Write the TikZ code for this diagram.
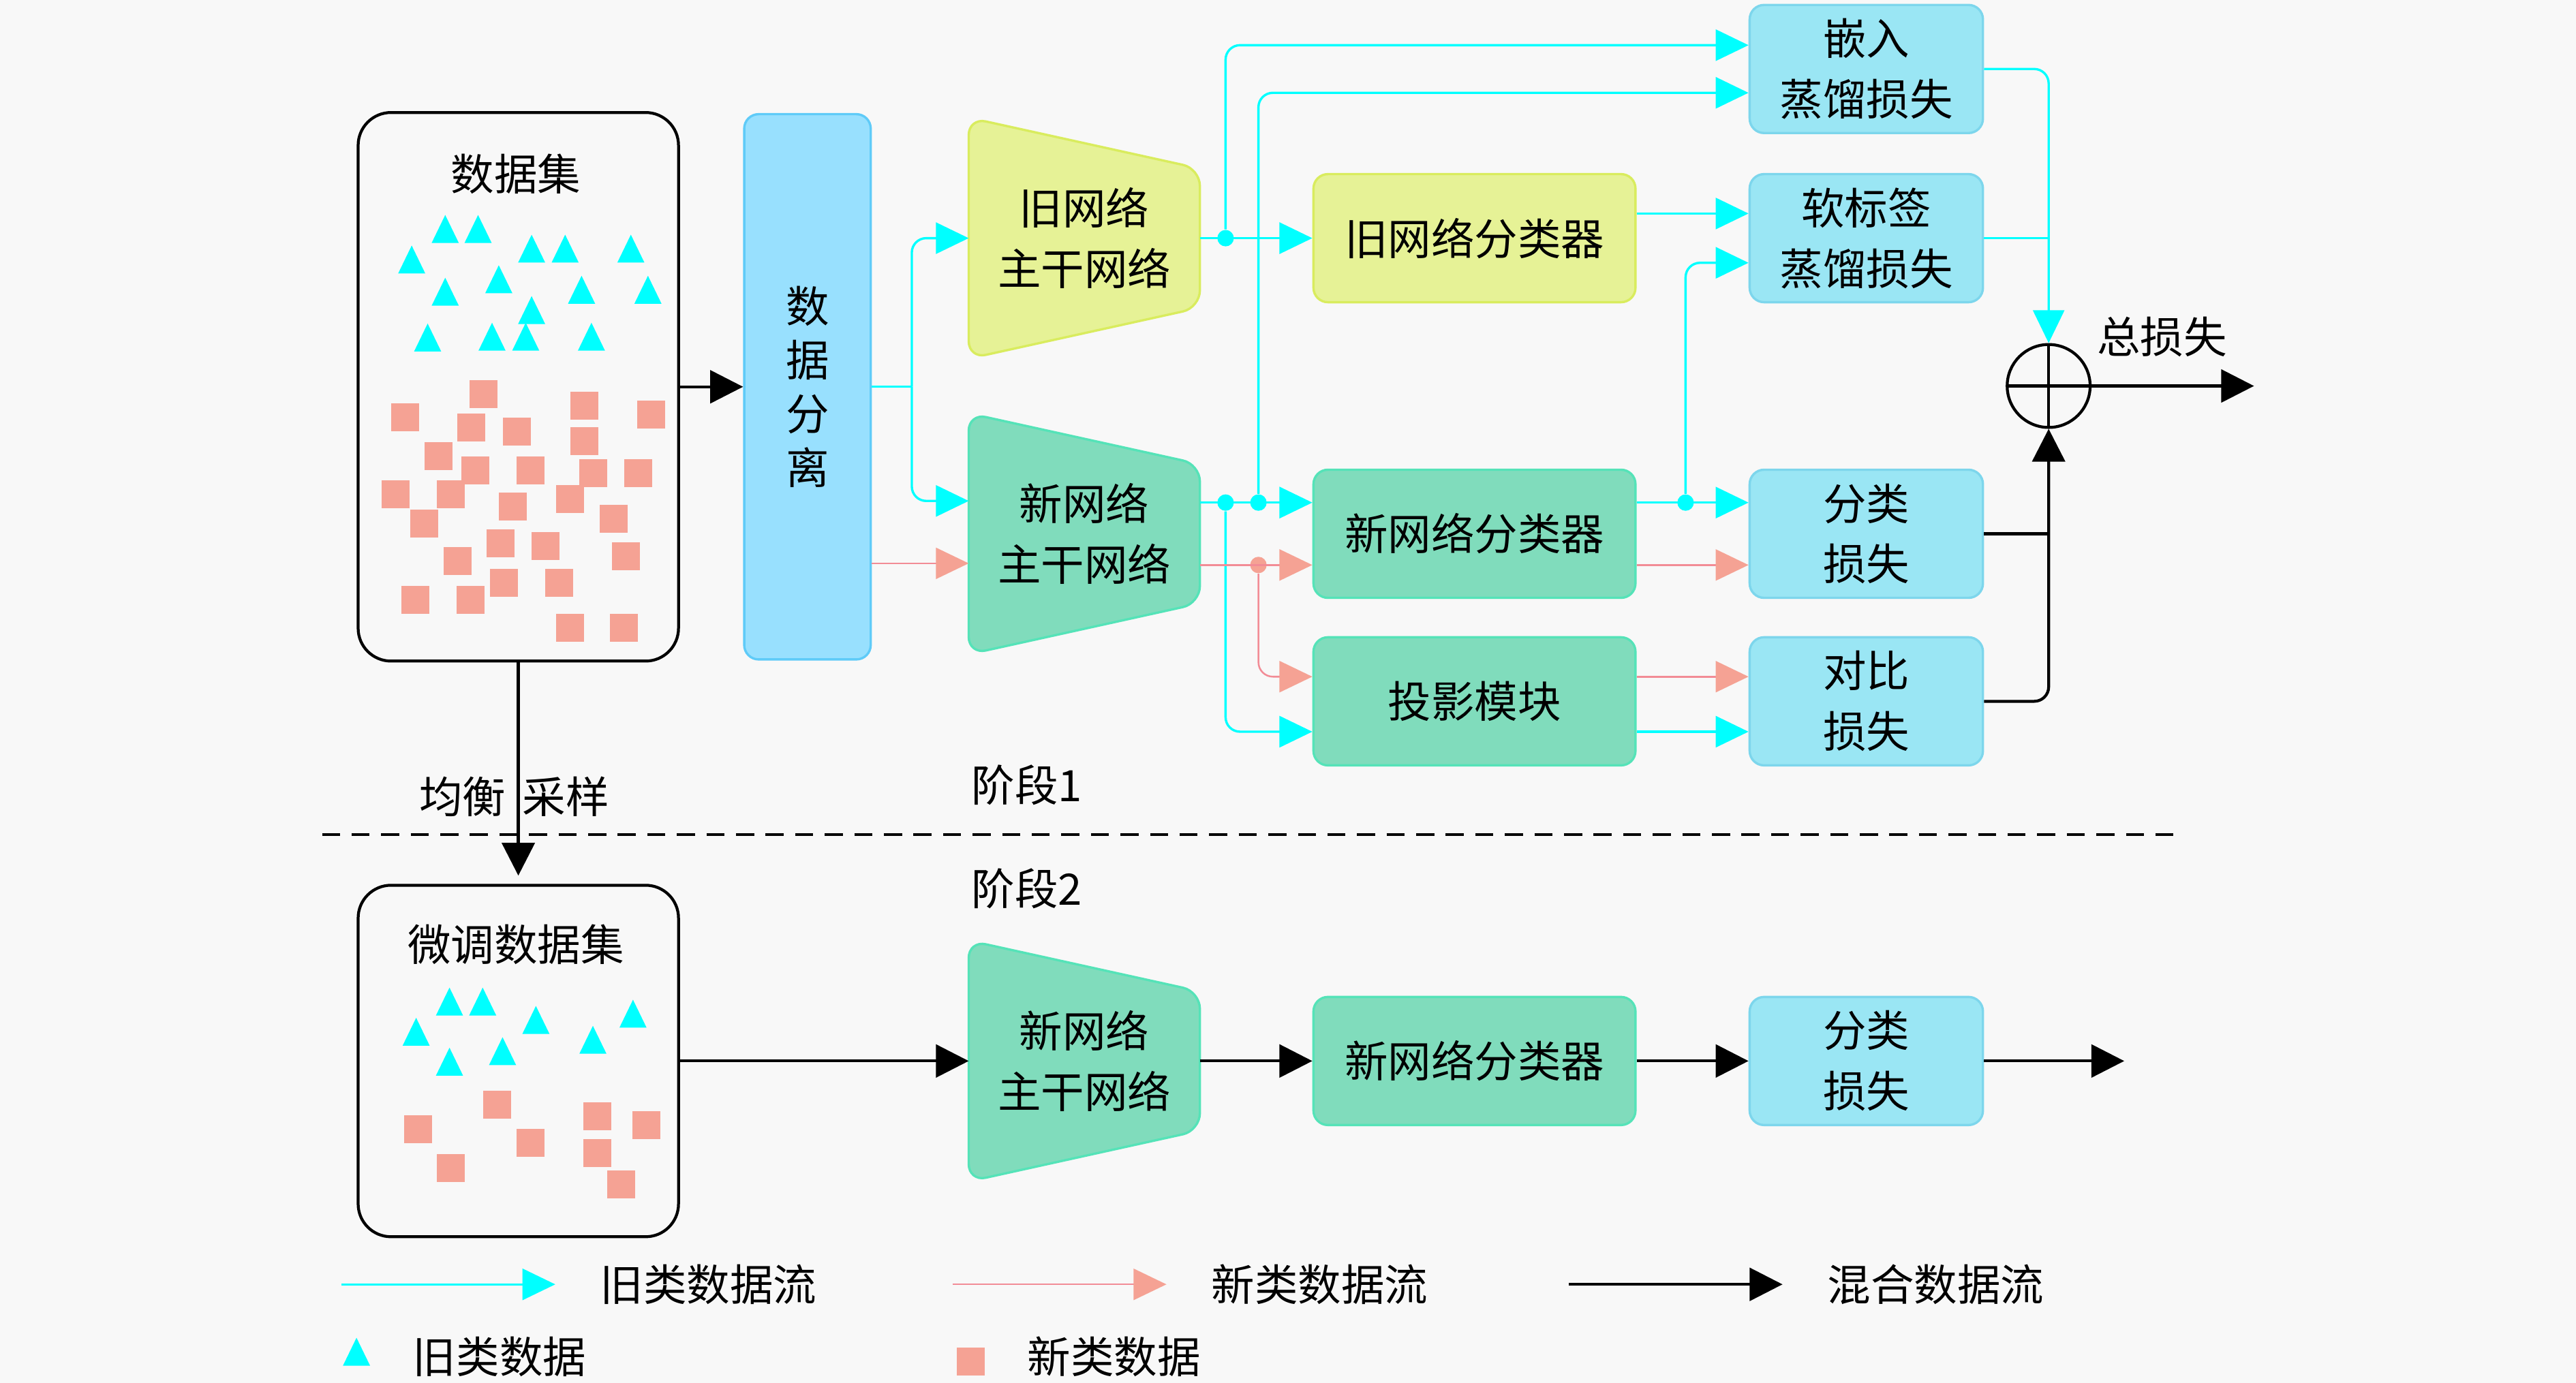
\documentclass[tikz,border=0pt]{standalone}
\usepackage{fontspec}
\setmainfont{Noto Sans CJK SC}
\usetikzlibrary{arrows.meta, positioning, calc, backgrounds}
\definecolor{cbg}{HTML}{F8F8F8}
\definecolor{ccyan}{HTML}{00FFFF}
\definecolor{cpink}{HTML}{F28C96}
\definecolor{csalmon}{HTML}{F5A294}
\definecolor{cyel}{HTML}{E6F296}
\definecolor{cyeld}{HTML}{D9EC5E}
\definecolor{cgrn}{HTML}{80DCBC}
\definecolor{cgrnd}{HTML}{55E3B8}
\definecolor{cblu}{HTML}{9AE6F4}
\definecolor{cblud}{HTML}{7DD6EC}
\definecolor{csplit}{HTML}{98E0FE}
\definecolor{csplitd}{HTML}{5FCBF8}
\tikzset{
  blockbox/.style={draw=#1d, fill=#1, line width=0.8pt, rounded corners=5pt, align=center, minimum width=3.92cm, minimum height=1.56cm},
  lossbox/.style={blockbox=cblu, minimum width=2.84cm},
  setbox/.style={draw=black, line width=1pt, rounded corners=0.4cm, minimum width=3.9cm},
  bbnode/.style={align=center, minimum width=2.8cm, minimum height=2.92cm},
  oldflow/.style={draw=ccyan, line width=0.8pt, -{Triangle[length=0.4cm, width=0.38cm]}},
  newflow/.style={draw=cpink, line width=0.6pt, -{Triangle[length=0.4cm, width=0.38cm, color=csalmon]}},
  mixflow/.style={draw=black, line width=1pt, -{Triangle[length=0.4cm, width=0.4cm]}},
  joint/.style={circle, fill=#1, inner sep=0pt, minimum size=0.2cm},
  joint/.default=ccyan,
}

\begin{document}
\begin{tikzpicture}[x=0.2mm, y=-0.2mm, every node/.append style={font=\fontsize{15}{21}\selectfont}]
  \useasboundingbox (0,0) rectangle (1568,842);
  % data sets
  \node[setbox, minimum height=6.68cm] (ds) at (315.5,235.5) {};
  \node (dstitle) at (314,106) {数据集};
  \node[setbox, minimum height=4.28cm] (ft) at (315.5,646) {};
  \node (fttitle) at (314,575) {微调数据集};
  \foreach \p in {(250.6,158),(271,139.4),(291,139.4),(323.6,151.4),(344,151.4),(384,151.4),(271,177.6),(303.6,170),(354,176.4),(394.4,176.4),(323.6,188.8),(260.3,205.5),(299.5,205),(320,205),(360,205),
                  (273.6,609.8),(293.8,609.8),(253.3,628.2),(326.2,621),(385.3,617.2),(360.9,633.1),(273.6,646.4),(305.9,640),(217,823)}
    \fill[ccyan] \p ++(-0.165cm,-0.17cm) -- ++(0.33cm,0) -- ++(-0.165cm,0.34cm) -- cycle;
  \foreach \p in {(294.4,240.1),(246.5,254.2),(286.9,260.1),(314.7,262.9),(355.7,246.9),(396.4,252.6),(355.7,268.6),(266.8,277.7),(289.5,286.3),(322.8,286.3),(361,287.9),(388.3,287.9),(240.9,301.1),(274.4,301.1),
                  (312,308.4),(347,303.8),(373.5,315.7),(258.1,318.6),(304.7,330.7),(332.1,332.3),(381,338.6),(278.4,341.4),(306.9,355),(340.3,355),(252.9,365.3),(286.5,365.3),(346.8,382.3),(379.8,382.3),
                  (254.3,687.7),(302.4,672.7),(323.1,696),(363.6,679.6),(393.6,685),(363.6,701.9),(274.6,711),(378.1,721.3),(591,829)}
    \fill[csalmon] \p ++(-0.17cm,-0.17cm) rectangle ++(0.34cm,0.34cm);

  % stage 1
  \node[blockbox=csplit, minimum width=1.54cm, minimum height=6.64cm, font=\fontsize{15}{18.7}\selectfont] (split) at (491.5,235.5) {数\\据\\分\\离};
  \node[bbnode] (oldbb) at (660,145) {旧网络\\主干网络};
  \node[bbnode] (newbb) at (660,325) {新网络\\主干网络};
  \node[blockbox=cyel] (oldcls) at (897.5,145) {旧网络分类器};
  \node[blockbox=cgrn] (newcls) at (897.5,325) {新网络分类器};
  \node[blockbox=cgrn] (proj) at (897.5,427) {投影模块};
  \node[lossbox] (emb) at (1136,42) {嵌入\\蒸馏损失};
  \node[lossbox] (soft) at (1136,145) {软标签\\蒸馏损失};
  \node[lossbox] (clsloss) at (1136,325) {分类\\损失};
  \node[lossbox] (con) at (1136,427) {对比\\损失};
  \node[circle, draw, line width=1pt, minimum size=1.01cm, inner sep=0pt,
        path picture={\draw[line width=1pt] (path picture bounding box.north) -- (path picture bounding box.south)
                      (path picture bounding box.west) -- (path picture bounding box.east);}] (tot) at (1247,235) {};
  \node (totlbl) at (1316,205) {总损失};
  \coordinate (fork) at (555,235.5);
  \coordinate (out1) at (1372,235);

  \draw[mixflow] (ds) -- (split);
  \draw[oldflow, -] (split) -- (fork);
  \draw[oldflow, rounded corners=5pt] (fork) |- (oldbb.west);
  \draw[oldflow, rounded corners=5pt] (fork) |- ([yshift=0.4cm]newbb.west);
  \draw[newflow] ([yshift=-0.36cm]newbb.west -| split.east) -- ([yshift=-0.36cm]newbb.west);

  \node[joint] (d1) at (746,145) {};
  \node[joint] (d2) at (746,306) {};
  \node[joint] (d3) at (766,306) {};
  \node[joint=csalmon] (d4) at (766,344) {};
  \node[joint] (d5) at (1026,306) {};
  \draw[oldflow] (oldbb.east) -- (oldcls.west);
  \draw[oldflow, rounded corners=5pt] (d1) |- ([yshift=0.29cm]emb.west);
  \draw[oldflow, rounded corners=5pt] (d3) |- ([yshift=-0.29cm]emb.west);
  \draw[oldflow] ([yshift=0.38cm]newbb.east) -- ([yshift=0.38cm]newcls.west);
  \draw[oldflow, rounded corners=5pt] (d2) |- ([yshift=-0.37cm]proj.west);
  \draw[newflow] ([yshift=-0.38cm]newbb.east) -- ([yshift=-0.38cm]newcls.west);
  \draw[newflow, rounded corners=5pt] (d4) |- ([yshift=0.3cm]proj.west);

  \draw[oldflow] ([yshift=0.3cm]oldcls.east) -- ([yshift=0.3cm]soft.west);
  \draw[oldflow] ([yshift=0.38cm]newcls.east) -- ([yshift=0.38cm]clsloss.west);
  \draw[oldflow, rounded corners=5pt] (d5) |- ([yshift=-0.3cm]soft.west);
  \draw[newflow] ([yshift=-0.38cm]newcls.east) -- ([yshift=-0.38cm]clsloss.west);
  \draw[newflow] ([yshift=0.3cm]proj.east) -- ([yshift=0.3cm]con.west);
  \draw[oldflow] ([yshift=-0.37cm]proj.east) -- ([yshift=-0.37cm]con.west);

  \draw[oldflow, rounded corners=5pt] (emb.east) -| (tot.north);
  \draw[oldflow, -] (soft.east) -- (soft.east -| tot.north);
  \draw[mixflow, -] (clsloss.east) -- (clsloss.east -| tot.south);
  \draw[mixflow, rounded corners=5pt] (con.east) -| (tot.south);
  \draw[mixflow] (tot.east) -- (out1);

  % stage border
  \coordinate (sepL) at (196,508);
  \coordinate (sepR) at (1323,508);
  \draw[line width=1pt, dash pattern=on 0.22cm off 0.14cm] (sepL) -- (sepR);
  \draw[mixflow, shorten >=0.1cm] (ds.south) -- (ft.north);
  \node (bal) at (313,485) {均衡\hspace{0.2cm}采样};
  \node (st1) at (625,478) {阶段1};
  \node (st2) at (625,541) {阶段2};

  % stage 2
  \node[bbnode] (ftbb) at (660,646) {新网络\\主干网络};
  \node[blockbox=cgrn] (ftcls) at (897.5,646) {新网络分类器};
  \node[lossbox] (ftloss) at (1136,646) {分类\\损失};
  \coordinate (out2) at (1293,646);
  \draw[mixflow] (ft) -- (ftbb);
  \draw[mixflow] (ftbb) -- (ftcls);
  \draw[mixflow] (ftcls) -- (ftloss);
  \draw[mixflow] (ftloss) -- (out2);

  % legend
  \coordinate (lgA1) at (208,782); \coordinate (lgA2) at (338,782);
  \coordinate (lgB1) at (580,782); \coordinate (lgB2) at (710,782);
  \coordinate (lgC1) at (955,782); \coordinate (lgC2) at (1085,782);
  \draw[oldflow] (lgA1) -- (lgA2);
  \draw[newflow] (lgB1) -- (lgB2);
  \draw[mixflow] (lgC1) -- (lgC2);
  \node[anchor=west, inner sep=0pt] (lgAt) at (365,782) {旧类数据流};
  \node[anchor=west, inner sep=0pt] (lgBt) at (737,782) {新类数据流};
  \node[anchor=west, inner sep=0pt] (lgCt) at (1112,782) {混合数据流};
  \node[anchor=west, inner sep=0pt] (lgDt) at (251,826) {旧类数据};
  \node[anchor=west, inner sep=0pt] (lgEt) at (625,826) {新类数据};

  \begin{scope}[on background layer]
    \fill[cbg] (0,0) rectangle (1568,842);
    \foreach \b/\c in {oldbb/cyel, newbb/cgrn, ftbb/cgrn}
      \draw[draw=\c d, fill=\c, line width=0.8pt, rounded corners=6pt] (\b.north west) -- ([yshift=-0.62cm]\b.north east) -- ([yshift=0.62cm]\b.south east) -- (\b.south west) -- cycle;
  \end{scope}
\end{tikzpicture}
\end{document}
